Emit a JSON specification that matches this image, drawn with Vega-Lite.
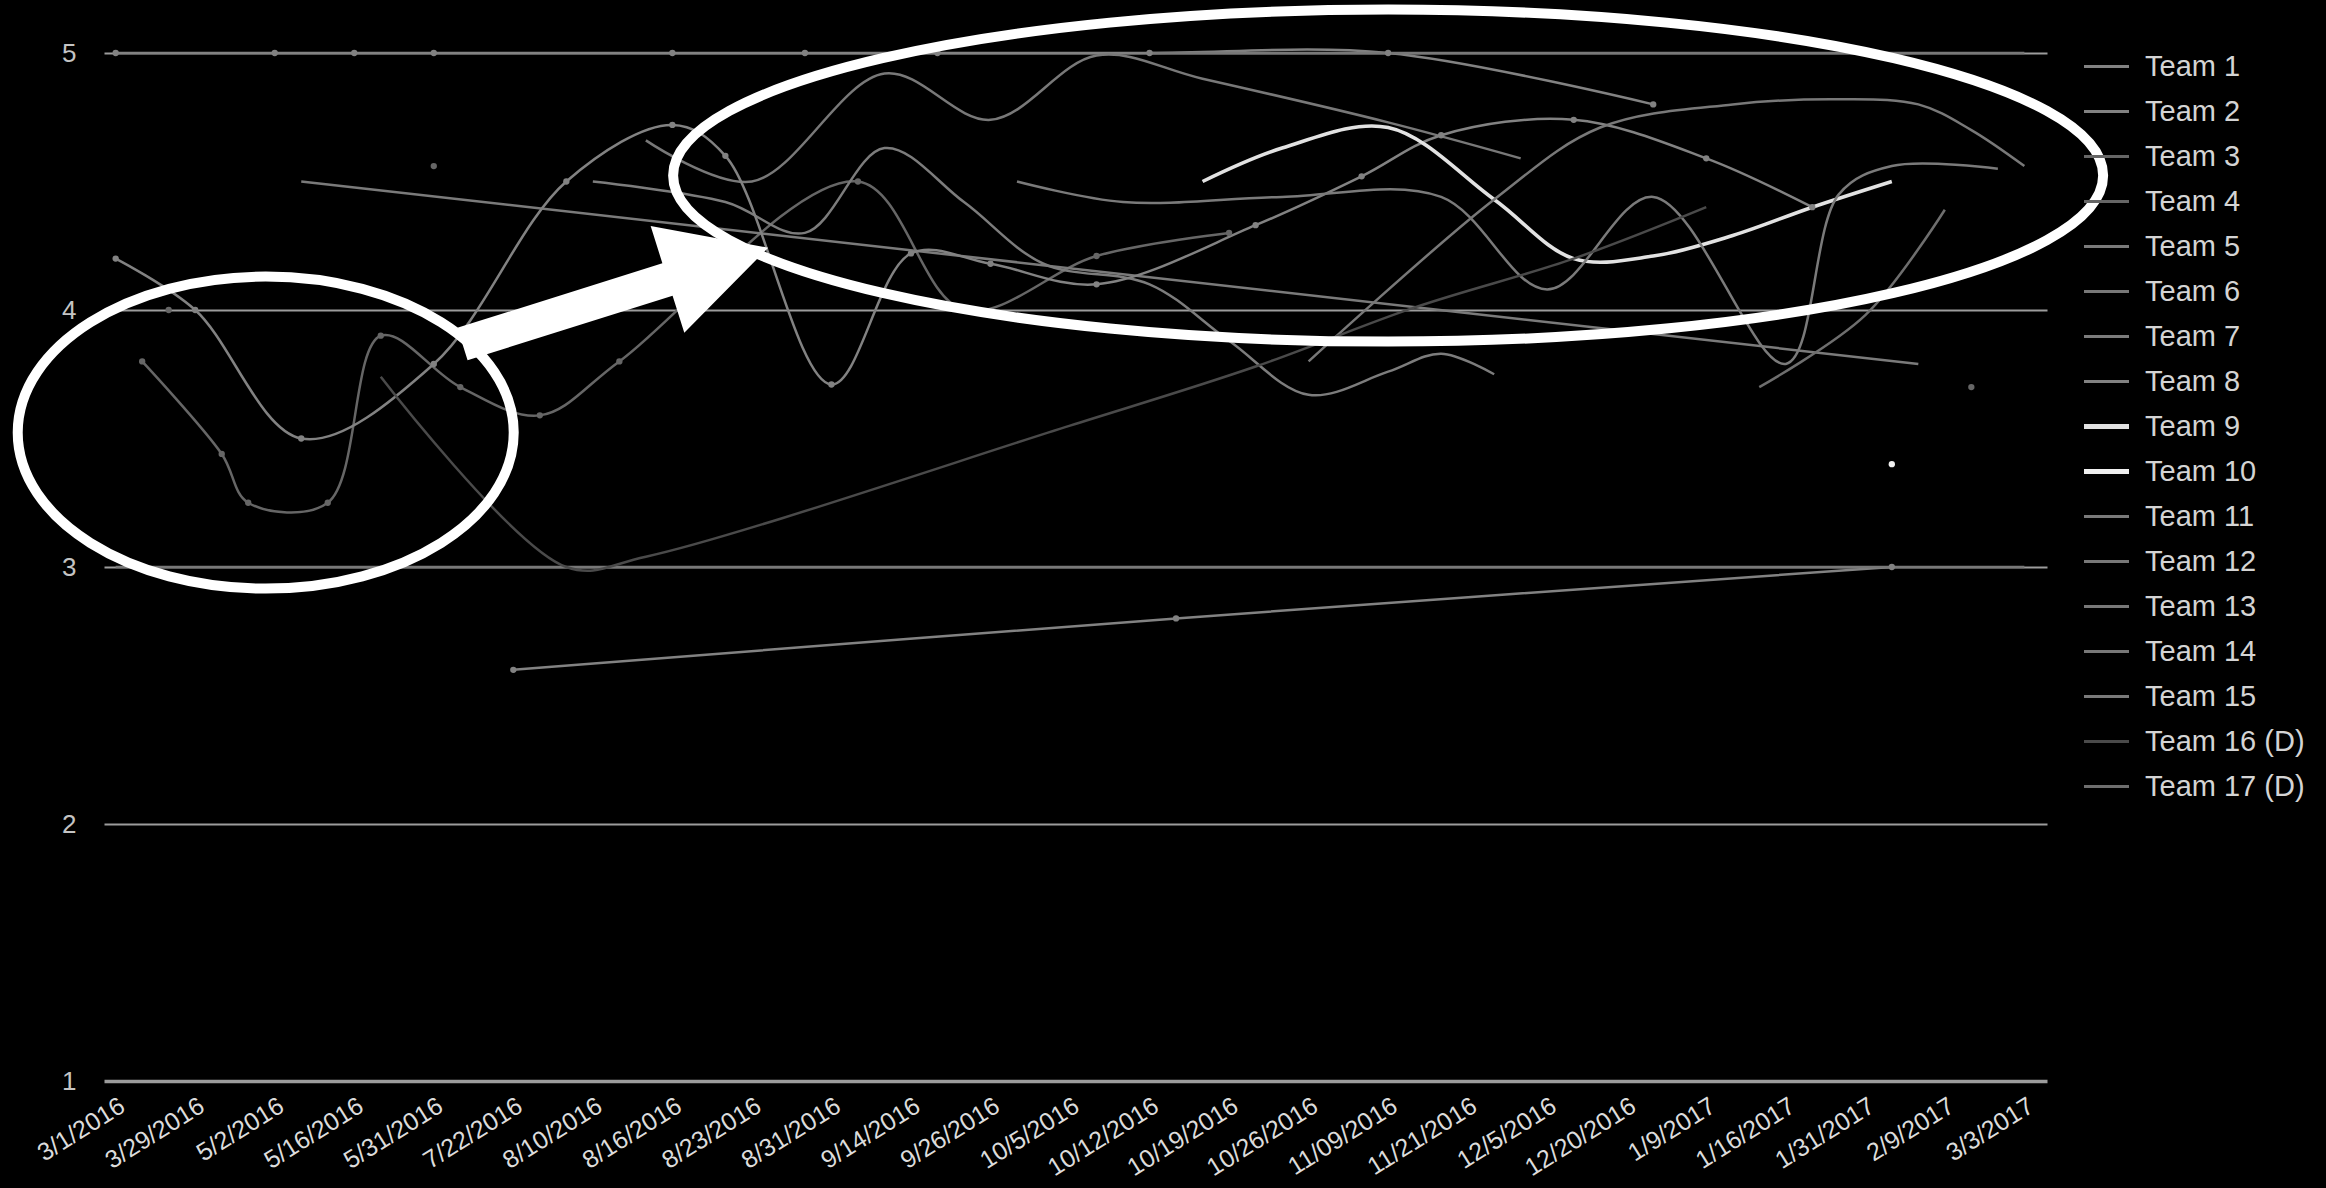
{
  "$schema": "https://vega.github.io/schema/vega-lite/v6.json",
  "width": 1943,
  "height": 1028,
  "padding": {"left": 104, "top": 53, "right": 279, "bottom": 107},
  "autosize": {"type": "none"},
  "background": "#000000",
  "config": {
    "view": {"stroke": null},
    "font": "Liberation Sans"
  },
  "datasets": {
    "scores": [
      {"team": "Team 1", "date": "3/1/2016", "value": 5},
      {"team": "Team 1", "date": "5/2/2016", "value": 5},
      {"team": "Team 1", "date": "5/16/2016", "value": 5},
      {"team": "Team 1", "date": "5/31/2016", "value": 5},
      {"team": "Team 1", "date": "8/16/2016", "value": 5},
      {"team": "Team 1", "date": "8/28/2016", "value": 5},
      {"team": "Team 1", "date": "9/18/2016", "value": 5},
      {"team": "Team 1", "date": "10/12/2016", "value": 5},
      {"team": "Team 1", "date": "11/09/2016", "value": 5},
      {"team": "Team 1", "date": "12/27/2016", "value": 4.8},

      {"team": "Team 2", "date": "7/22/2016", "value": 2.6},
      {"team": "Team 2", "date": "10/14/2016", "value": 2.8},
      {"team": "Team 2", "date": "2/3/2017", "value": 3.0},

      {"team": "Team 3", "date": "3/19/2016", "value": 4.0},
      {"team": "Team 3", "date": "5/31/2016", "value": 4.56},
      {"team": "Team 3", "date": "2/19/2017", "value": 3.7},

      {"team": "Team 4", "date": "3/10/2016", "value": 3.8},
      {"team": "Team 4", "date": "4/10/2016", "value": 3.44},
      {"team": "Team 4", "date": "4/21/2016", "value": 3.25},
      {"team": "Team 4", "date": "5/11/2016", "value": 3.25},
      {"team": "Team 4", "date": "5/21/2016", "value": 3.9},
      {"team": "Team 4", "date": "6/17/2016", "value": 3.7},
      {"team": "Team 4", "date": "7/28/2016", "value": 3.59},
      {"team": "Team 4", "date": "8/12/2016", "value": 3.8},
      {"team": "Team 4", "date": "9/5/2016", "value": 4.5},
      {"team": "Team 4", "date": "9/22/2016", "value": 4.0},
      {"team": "Team 4", "date": "10/7/2016", "value": 4.21},
      {"team": "Team 4", "date": "10/19/2016", "value": 4.3},

      {"team": "Team 5", "date": "5/6/2016", "value": 4.5},
      {"team": "Team 5", "date": "2/6/2017", "value": 3.79},

      {"team": "Team 6", "date": "8/14/2016", "value": 4.66},
      {"team": "Team 6", "date": "8/23/2016", "value": 4.5},
      {"team": "Team 6", "date": "9/9/2016", "value": 4.92},
      {"team": "Team 6", "date": "9/26/2016", "value": 4.74},
      {"team": "Team 6", "date": "10/7/2016", "value": 4.99},
      {"team": "Team 6", "date": "10/17/2016", "value": 4.9},
      {"team": "Team 6", "date": "11/09/2016", "value": 4.73},
      {"team": "Team 6", "date": "11/30/2016", "value": 4.59},

      {"team": "Team 7", "date": "8/10/2016", "value": 4.5},
      {"team": "Team 7", "date": "8/21/2016", "value": 4.42},
      {"team": "Team 7", "date": "8/28/2016", "value": 4.3},
      {"team": "Team 7", "date": "9/9/2016", "value": 4.63},
      {"team": "Team 7", "date": "9/22/2016", "value": 4.42},
      {"team": "Team 7", "date": "10/2/2016", "value": 4.18},
      {"team": "Team 7", "date": "10/12/2016", "value": 4.1},
      {"team": "Team 7", "date": "10/19/2016", "value": 3.88},
      {"team": "Team 7", "date": "10/26/2016", "value": 3.67},
      {"team": "Team 7", "date": "11/09/2016", "value": 3.76},
      {"team": "Team 7", "date": "11/17/2016", "value": 3.83},
      {"team": "Team 7", "date": "11/25/2016", "value": 3.75},

      {"team": "Team 8", "date": "3/1/2016", "value": 4.2},
      {"team": "Team 8", "date": "3/29/2016", "value": 4.0},
      {"team": "Team 8", "date": "5/6/2016", "value": 3.5},
      {"team": "Team 8", "date": "5/31/2016", "value": 3.79},
      {"team": "Team 8", "date": "8/3/2016", "value": 4.5},
      {"team": "Team 8", "date": "8/16/2016", "value": 4.72},
      {"team": "Team 8", "date": "8/21/2016", "value": 4.6},
      {"team": "Team 8", "date": "8/31/2016", "value": 3.71},
      {"team": "Team 8", "date": "9/14/2016", "value": 4.22},
      {"team": "Team 8", "date": "9/26/2016", "value": 4.18},
      {"team": "Team 8", "date": "10/7/2016", "value": 4.1},
      {"team": "Team 8", "date": "10/21/2016", "value": 4.33},
      {"team": "Team 8", "date": "11/4/2016", "value": 4.52},
      {"team": "Team 8", "date": "11/17/2016", "value": 4.68},
      {"team": "Team 8", "date": "12/10/2016", "value": 4.74},
      {"team": "Team 8", "date": "1/9/2017", "value": 4.59},
      {"team": "Team 8", "date": "1/21/2017", "value": 4.4},

      {"team": "Team 9", "date": "10/17/2016", "value": 4.5},
      {"team": "Team 9", "date": "10/24/2016", "value": 4.63},
      {"team": "Team 9", "date": "11/09/2016", "value": 4.71},
      {"team": "Team 9", "date": "11/25/2016", "value": 4.43},
      {"team": "Team 9", "date": "12/10/2016", "value": 4.2},
      {"team": "Team 9", "date": "12/27/2016", "value": 4.21},
      {"team": "Team 9", "date": "1/11/2017", "value": 4.29},
      {"team": "Team 9", "date": "1/21/2017", "value": 4.4},
      {"team": "Team 9", "date": "2/3/2017", "value": 4.5},

      {"team": "Team 10", "date": "2/3/2017", "value": 3.4},

      {"team": "Team 11", "date": "9/29/2016", "value": 4.5},
      {"team": "Team 11", "date": "10/10/2016", "value": 4.42},
      {"team": "Team 11", "date": "10/24/2016", "value": 4.44},
      {"team": "Team 11", "date": "11/17/2016", "value": 4.44},
      {"team": "Team 11", "date": "12/5/2016", "value": 4.08},
      {"team": "Team 11", "date": "12/27/2016", "value": 4.44},
      {"team": "Team 11", "date": "1/16/2017", "value": 3.79},
      {"team": "Team 11", "date": "1/26/2017", "value": 4.45},
      {"team": "Team 11", "date": "2/3/2017", "value": 4.56},
      {"team": "Team 11", "date": "2/24/2017", "value": 4.55},

      {"team": "Team 12", "date": "10/26/2016", "value": 3.8},
      {"team": "Team 12", "date": "11/25/2016", "value": 4.43},
      {"team": "Team 12", "date": "12/15/2016", "value": 4.71},
      {"team": "Team 12", "date": "1/11/2017", "value": 4.8},
      {"team": "Team 12", "date": "1/26/2017", "value": 4.82},
      {"team": "Team 12", "date": "2/6/2017", "value": 4.8},
      {"team": "Team 12", "date": "2/19/2017", "value": 4.7},
      {"team": "Team 12", "date": "3/3/2017", "value": 4.56},

      {"team": "Team 13", "date": "3/1/2016", "value": 3.0},
      {"team": "Team 13", "date": "3/3/2017", "value": 3.0},

      {"team": "Team 14", "date": "10/12/2016", "value": 5.0},
      {"team": "Team 14", "date": "3/3/2017", "value": 5.0},

      {"team": "Team 16 (D)", "date": "5/21/2016", "value": 3.74},
      {"team": "Team 16 (D)", "date": "8/3/2016", "value": 3.0},
      {"team": "Team 16 (D)", "date": "8/14/2016", "value": 3.04},
      {"team": "Team 16 (D)", "date": "10/5/2016", "value": 3.55},
      {"team": "Team 16 (D)", "date": "10/21/2016", "value": 3.78},
      {"team": "Team 16 (D)", "date": "11/13/2016", "value": 4.01},
      {"team": "Team 16 (D)", "date": "12/10/2016", "value": 4.2},
      {"team": "Team 16 (D)", "date": "1/9/2017", "value": 4.4},

      {"team": "Team 17 (D)", "date": "1/13/2017", "value": 3.7},
      {"team": "Team 17 (D)", "date": "1/31/2017", "value": 3.98},
      {"team": "Team 17 (D)", "date": "2/9/2017", "value": 4.39}
    ],
    "callouts": [
      {"note": "spring dip", "date": "5/2/2016", "value": 3.523},
      {"note": "autumn cluster", "date": "11/09/2016", "value": 4.523},
      {"note": "pointer", "date": "8/12/2016", "value": 4.055}
    ]
  },
  "encoding": {
    "x": {
      "field": "date",
      "type": "ordinal",
      "scale": {
        "type": "point",
        "padding": 0.647,
        "align": 0.34,
        "domain": ["3/1/2016", "3/10/2016", "3/19/2016", "3/29/2016", "4/10/2016", "4/21/2016", "5/2/2016", "5/6/2016", "5/11/2016", "5/16/2016", "5/21/2016", "5/26/2016", "5/31/2016", "6/17/2016", "7/5/2016", "7/22/2016", "7/28/2016", "8/3/2016", "8/10/2016", "8/12/2016", "8/14/2016", "8/16/2016", "8/18/2016", "8/21/2016", "8/23/2016", "8/26/2016", "8/28/2016", "8/31/2016", "9/5/2016", "9/9/2016", "9/14/2016", "9/18/2016", "9/22/2016", "9/26/2016", "9/29/2016", "10/2/2016", "10/5/2016", "10/7/2016", "10/10/2016", "10/12/2016", "10/14/2016", "10/17/2016", "10/19/2016", "10/21/2016", "10/24/2016", "10/26/2016", "10/31/2016", "11/4/2016", "11/09/2016", "11/13/2016", "11/17/2016", "11/21/2016", "11/25/2016", "11/30/2016", "12/5/2016", "12/10/2016", "12/15/2016", "12/20/2016", "12/27/2016", "1/2/2017", "1/9/2017", "1/11/2017", "1/13/2017", "1/16/2017", "1/21/2017", "1/26/2017", "1/31/2017", "2/3/2017", "2/6/2017", "2/9/2017", "2/19/2017", "2/24/2017", "3/3/2017"]
      },
      "axis": {
        "title": null,
        "values": ["3/1/2016", "3/29/2016", "5/2/2016", "5/16/2016", "5/31/2016", "7/22/2016", "8/10/2016", "8/16/2016", "8/23/2016", "8/31/2016", "9/14/2016", "9/26/2016", "10/5/2016", "10/12/2016", "10/19/2016", "10/26/2016", "11/09/2016", "11/21/2016", "12/5/2016", "12/20/2016", "1/9/2017", "1/16/2017", "1/31/2017", "2/9/2017", "3/3/2017"],
        "domain": false,
        "ticks": false,
        "grid": false,
        "labelAngle": -32,
        "labelAlign": "right",
        "labelBaseline": "top",
        "labelPadding": 12,
        "labelFontSize": 25,
        "labelColor": "#dcdcdc",
        "labelOverlap": false,
        "labelBound": false,
        "labelFlush": false
      }
    },
    "y": {
      "field": "value",
      "type": "quantitative",
      "scale": {"domain": [1, 5], "nice": false, "zero": false},
      "axis": {
        "title": null,
        "values": [1, 2, 3, 4, 5],
        "domain": false,
        "ticks": false,
        "grid": true,
        "gridColor": "#9c9c9c",
        "gridWidth": {"condition": {"test": "datum.value === 1", "value": 3.5}, "value": 2},
        "labelFontSize": 26,
        "labelColor": "#c4c4c4",
        "labelPadding": 28
      }
    }
  },
  "layer": [
    {
      "data": {"name": "scores"},
      "transform": [{"filter": {"not": {"field": "team", "oneOf": ["Team 3", "Team 10"]}}}],
      "mark": {"type": "line", "interpolate": "catmull-rom", "clip": false},
      "encoding": {
        "color": {
          "field": "team",
          "type": "nominal",
          "scale": {
            "domain": ["Team 1", "Team 2", "Team 3", "Team 4", "Team 5", "Team 6", "Team 7", "Team 8", "Team 9", "Team 10", "Team 11", "Team 12", "Team 13", "Team 14", "Team 15", "Team 16 (D)", "Team 17 (D)"],
            "range": ["#828282", "#828282", "#666666", "#666666", "#7a7a7a", "#787878", "#7c7c7c", "#828282", "#e2e2e2", "#f0f0f0", "#7a7a7a", "#787878", "#787878", "#787878", "#7a7a7a", "#4a4a4a", "#6e6e6e"]
          },
          "legend": {
            "title": null,
            "orient": "none",
            "legendX": 1988,
            "legendY": -1,
            "symbolType": "stroke",
            "symbolSize": 2025,
            "symbolStrokeWidth": 3,
            "labelFontSize": 29,
            "labelColor": "#d4d4d4",
            "labelOffset": 24,
            "rowPadding": 15,
            "encode": {
              "symbols": {"update": {"strokeWidth": {"signal": "datum.value === 'Team 9' || datum.value === 'Team 10' ? 5 : 3"}}}
            }
          }
        },
        "strokeWidth": {"condition": {"test": "datum.team === 'Team 9'", "value": 3.6}, "value": 2.5}
      }
    },
    {
      "data": {"name": "scores"},
      "transform": [{"filter": {"field": "team", "oneOf": ["Team 1", "Team 2", "Team 3", "Team 4", "Team 8", "Team 10"]}}],
      "mark": {"type": "point", "filled": true, "size": 40, "opacity": 1, "clip": false},
      "encoding": {
        "color": {"field": "team", "type": "nominal", "legend": null}
      }
    },
    {
      "data": {"name": "callouts"},
      "transform": [{"filter": "datum.note === 'spring dip'"}],
      "mark": {
        "type": "point",
        "shape": "M 1 0 C 1 0.3474 0.5523 0.629 0 0.629 C -0.5523 0.629 -1 0.3474 -1 0 C -1 -0.3474 -0.5523 -0.629 0 -0.629 C 0.5523 -0.629 1 -0.3474 1 0 Z",
        "size": 246016,
        "filled": false,
        "stroke": "#ffffff",
        "strokeWidth": 10,
        "opacity": 1,
        "xOffset": -9,
        "clip": false
      }
    },
    {
      "data": {"name": "callouts"},
      "transform": [{"filter": "datum.note === 'autumn cluster'"}],
      "mark": {
        "type": "point",
        "shape": "M 1 0 C 1 0.1282 0.5523 0.2322 0 0.2322 C -0.5523 0.2322 -1 0.1282 -1 0 C -1 -0.1282 -0.5523 -0.2322 0 -0.2322 C 0.5523 -0.2322 1 -0.1282 1 0 Z",
        "size": 2044900,
        "filled": false,
        "stroke": "#ffffff",
        "strokeWidth": 10,
        "opacity": 1,
        "clip": false
      }
    },
    {
      "data": {"name": "callouts"},
      "transform": [{"filter": "datum.note === 'pointer'"}],
      "mark": {
        "type": "point",
        "shape": "M -1 -0.106 L 0.341 -0.106 L 0.341 -0.349 L 1 0 L 0.341 0.349 L 0.341 0.106 L -1 0.106 Z",
        "size": 102784,
        "angle": -17.5,
        "filled": true,
        "color": "#ffffff",
        "opacity": 1,
        "xOffset": -4,
        "clip": false
      }
    }
  ]
}
